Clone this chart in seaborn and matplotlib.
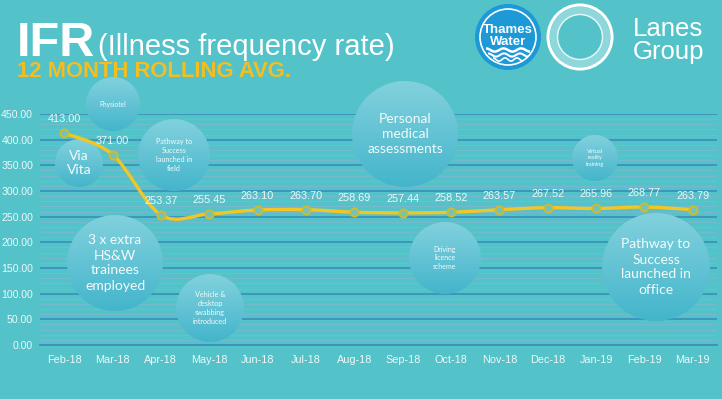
import numpy as np
import matplotlib
matplotlib.use('Agg')
import matplotlib.pyplot as plt
import matplotlib.transforms as mtransforms
from matplotlib.patches import Circle, PathPatch
from matplotlib.path import Path
from matplotlib.colors import LinearSegmentedColormap
from matplotlib import font_manager
import seaborn as sns

# data
months = ['Feb-18', 'Mar-18', 'Apr-18', 'May-18', 'Jun-18', 'Jul-18', 'Aug-18',
          'Sep-18', 'Oct-18', 'Nov-18', 'Dec-18', 'Jan-19', 'Feb-19', 'Mar-19']
ifr = [413.00, 371.00, 253.37, 255.45, 263.10, 263.70, 258.69,
       257.44, 258.52, 263.57, 267.52, 265.96, 268.77, 263.79]
y_ticks = list(range(0, 451, 50))

# annotation bubbles: text, centre x/y and radius in pixels, font size
bubble_text = ['Physiotel', 'Via\nVita', 'Pathway to\nSuccess\nlaunched in\nfield',
               '3 x extra\nHS&W\ntrainees\nemployed', 'Vehicle &\ndesktop\nswabbing\nintroduced',
               'Personal\nmedical\nassessments', 'Driving\nlicence\nscheme',
               'Virtual\nreality\ntraining', 'Pathway to\nSuccess\nlaunched in\noffice']
bubble_xy = [(113, 104), (79, 163), (174, 155), (115, 263), (210, 308),
             (405, 134), (445, 258), (595, 158), (656, 267)]
bubble_r = [27, 24, 36, 48, 34, 53, 36, 23, 54]
bubble_fs = [4.8, 10, 5.2, 10, 5.2, 10, 5, 4, 10]

W, H = 722, 399
BG = '#53c3c9'
MAJOR = '#3b92bb'
MINOR = '#74b9cd'
LABEL = '#eef7f7'
YELLOW = '#f3c623'


def pick(*names):
    have = {f.name for f in font_manager.fontManager.ttflist}
    for n in names:
        if n in have:
            return n
    return 'DejaVu Sans'


NARROW = pick('Liberation Sans Narrow', 'Liberation Sans')
SANS = pick('Liberation Sans', 'DejaVu Sans')
BUB = pick('Lato', 'Open Sans', 'Noto Sans')

sns.set_style('white')
plt.rcParams['font.family'] = [NARROW, 'DejaVu Sans']

fig = plt.figure(figsize=(W / 100, H / 100), dpi=100)
fig.patch.set_facecolor(BG)
px = mtransforms.Affine2D().scale(1 / W, -1 / H).translate(0, 1) + fig.transFigure

ax = fig.add_axes([40 / W, (H - 345) / H, (717 - 40) / W, (345 - 114) / H])
ax.set_facecolor(BG)

# grid
ax.set_yticks(y_ticks)
ax.set_yticklabels([f'{v:.2f}' for v in y_ticks])
ax.set_yticks(range(0, 451, 10), minor=True)
ax.set_axisbelow(True)
ax.grid(which='major', axis='y', color=MAJOR, lw=1.3)
ax.grid(which='minor', axis='y', color=MINOR, lw=0.8)
ax.grid(which='major', axis='x', visible=False)

# bubbles with a soft vertical gradient
cmap = LinearSegmentedColormap.from_list('bub', ['#82d1dd', '#44b5cb'])
grad = np.linspace(0, 1, 256).reshape(-1, 1)
for txt, (cx, cy), r, fs in zip(bubble_text, bubble_xy, bubble_r, bubble_fs):
    circ = Circle((cx, cy), r, transform=px)
    im = ax.imshow(grad, cmap=cmap, extent=(cx - r, cx + r, cy + r, cy - r),
                   transform=px, aspect='auto', zorder=1.5, interpolation='bilinear')
    im.set_clip_path(circ)
    im.set_clip_box(fig.bbox)
    ax.text(cx, cy, txt, transform=px, ha='center', va='center', color='#f2fbfb',
            fontsize=fs, family=BUB, linespacing=1.3, zorder=1.6, clip_on=False)

# smoothed line (Excel-style bezier through the points)
xs = np.arange(len(ifr), dtype=float)
ys = np.array(ifr)
verts = [(xs[0], ys[0])]
codes = [Path.MOVETO]
n = len(xs)
for i in range(n - 1):
    a, b = max(i - 1, 0), min(i + 2, n - 1)
    c1 = (xs[i] + (xs[i + 1] - xs[a]) / 6, ys[i] + (ys[i + 1] - ys[a]) / 6)
    c2 = (xs[i + 1] - (xs[b] - xs[i]) / 6, ys[i + 1] - (ys[b] - ys[i]) / 6)
    verts += [c1, c2, (xs[i + 1], ys[i + 1])]
    codes += [Path.CURVE4] * 3
ax.add_patch(PathPatch(Path(verts, codes), facecolor='none', edgecolor=YELLOW,
                       lw=2.4, zorder=3, clip_on=False, capstyle='round'))

sns.scatterplot(x=xs, y=ys, ax=ax, s=34, marker='o', color='#72c3bd',
                edgecolor='#cfbb2e', linewidth=1.4, zorder=4, clip_on=False)

for x, v in zip(xs, ys):
    ax.annotate(f'{v:.2f}', (x, v), xytext=(0, 6.5), textcoords='offset points',
                ha='center', va='bottom', color=LABEL, fontsize=7.8, zorder=5)

ax.set_xlim(-0.5, len(months) - 0.5)
ax.set_ylim(0, 450)
ax.set_xticks(xs)
ax.set_xticklabels(months)
ax.set_xticks(np.arange(-0.5, len(months), 1), minor=True)
ax.tick_params(axis='x', which='major', length=0, pad=7, labelsize=7.8, labelcolor=LABEL)
ax.tick_params(axis='x', which='minor', length=4, width=1.2, color=MAJOR, direction='out')
ax.tick_params(axis='y', which='both', length=0, pad=5, labelsize=7.6, labelcolor=LABEL)
ax.set_xlabel('')
ax.set_ylabel('')
for s in ['top', 'left', 'right']:
    ax.spines[s].set_visible(False)
ax.spines['bottom'].set_color(MAJOR)
ax.spines['bottom'].set_linewidth(1.3)

# title block
fig.text(17 / W, 1 - 56 / H, 'IFR', color='white', fontsize=35, fontweight='bold',
         family=NARROW, va='baseline')
fig.text(98 / W, 1 - 55 / H, '(Illness frequency rate)', color='white', fontsize=21,
         family=NARROW, va='baseline')
fig.text(17 / W, 1 - 77 / H, '12 MONTH ROLLING AVG.', color='#f5be1e', fontsize=15.8,
         fontweight='bold', family=NARROW, va='baseline')

# Thames Water badge
tw = Circle((508, 37), 33, transform=px, facecolor='#1c99d6', edgecolor='none')
fig.add_artist(tw)
fig.add_artist(Circle((508, 37), 28, transform=px, facecolor='none',
                      edgecolor='white', lw=1.2))
fig.text(508 / W, 1 - 30 / H, 'Thames', color='white', fontsize=9.5, fontweight='bold',
         family=SANS, ha='center', va='center')
fig.text(508 / W, 1 - 42 / H, 'Water', color='white', fontsize=9.5, fontweight='bold',
         family=SANS, ha='center', va='center')
t = np.linspace(-1, 1, 60)
for k, (wy, half) in enumerate([(50, 22), (55, 20), (59.5, 15)]):
    wx = 508 + t * half
    wyy = wy + 1.6 * np.sin(t * np.pi * 2.5)
    pts = np.column_stack([wx, wyy])
    fig.add_artist(PathPatch(Path(pts), transform=px, facecolor='none',
                             edgecolor='white', lw=1.8 - 0.3 * k))

# Lanes Group ring
fig.add_artist(Circle((580, 37), 26, transform=px, facecolor='none',
                      edgecolor='white', lw=6, alpha=0.35))
fig.add_artist(Circle((580, 37), 22.5, transform=px, facecolor='none',
                      edgecolor='white', lw=1.0, alpha=0.8))
fig.add_artist(Circle((580, 37), 32, transform=px, facecolor='none',
                      edgecolor='white', lw=2.2))
fig.text(633 / W, 1 - 36 / H, 'Lanes', color='white', fontsize=18.5, family=SANS,
         va='baseline')
fig.text(633 / W, 1 - 59 / H, 'Group', color='white', fontsize=18.5, family=SANS,
         va='baseline')

fig.savefig('out.png', dpi=100, facecolor=BG)
